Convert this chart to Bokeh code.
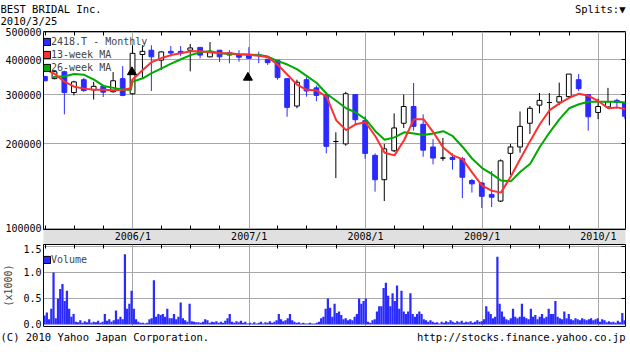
import numpy as np
import pandas as pd
from bokeh.plotting import figure
from bokeh.layouts import column
from bokeh.core.properties import value
from bokeh.models import (ColumnDataSource, FixedTicker, Legend, LegendItem, Grid,
                          Range1d, CustomJSTickFormatter, DatetimeAxis, LogAxis, LinearAxis)
from bokeh.embed import file_html
from bokeh.resources import INLINE

# ---------------- data ----------------
title_text = "BEST BRIDAL Inc."
date_text = "2010/3/25"

candle_dates = [
    "2005-03-31", "2005-04-30", "2005-05-31", "2005-06-30", "2005-07-31", "2005-08-31",
    "2005-09-30", "2005-10-31", "2005-11-30", "2005-12-31", "2006-01-31", "2006-02-28",
    "2006-03-31", "2006-04-30", "2006-05-31", "2006-06-30", "2006-07-31", "2006-08-31",
    "2006-09-30", "2006-10-31", "2006-11-30", "2006-12-31", "2007-01-31", "2007-02-28",
    "2007-03-31", "2007-04-30", "2007-05-31", "2007-06-30", "2007-07-31", "2007-08-31",
    "2007-09-30", "2007-10-31", "2007-11-30", "2007-12-31", "2008-01-31", "2008-02-29",
    "2008-03-31", "2008-04-30", "2008-05-31", "2008-06-30", "2008-07-31", "2008-08-31",
    "2008-09-30", "2008-10-31", "2008-11-30", "2008-12-31", "2009-01-31", "2009-02-28",
    "2009-03-31", "2009-04-30", "2009-05-31", "2009-06-30", "2009-07-31", "2009-08-31",
    "2009-09-30", "2009-10-31", "2009-11-30", "2009-12-31", "2010-01-31", "2010-02-28",
    "2010-03-25",
]
opens = [348000, 342000, 362000, 305000, 339000, 312000, 321000, 307000, 342000, 302000,
         417000, 432000, 398000, 428000, 428000, 432000, 442000, 409000, 432000, 423000,
         415000, 415000, 416000, 401000, 398000, 342000, 273000, 339000, 317000, 300000,
         204000, 200000, 300000, 242000, 182000, 149000, 189000, 237000, 272000, 235000,
         195000, 178000, 179000, 177000, 148000, 145000, 132000, 125000, 185000, 195000,
         237000, 275000, 281000, 282000, 295000, 339000, 300000, 259000, 271000, 286000,
         281000]
highs = [350000, 364000, 365000, 336000, 344000, 333000, 322000, 361000, 379000, 450000,
         450000, 450000, 428000, 447000, 447000, 455000, 444000, 462000, 433000, 432000,
         432000, 443000, 427000, 402000, 399000, 343000, 339000, 346000, 323000, 301000,
         220000, 307000, 301000, 251000, 185000, 200000, 257000, 300000, 330000, 255000,
         208000, 210000, 185000, 180000, 150000, 146000, 160000, 176000, 200000, 261000,
         273000, 304000, 304000, 331000, 355000, 355000, 301000, 290000, 317000, 290000,
         282000]
lows = [335000, 340000, 255000, 298000, 307000, 288000, 294000, 305000, 296000, 300000,
        345000, 309000, 367000, 410000, 411000, 363000, 404000, 408000, 392000, 388000,
        393000, 403000, 388000, 383000, 339000, 250000, 268000, 295000, 284000, 185000,
        151000, 197000, 235000, 177000, 135000, 125000, 187000, 228000, 223000, 180000,
        169000, 174000, 162000, 128000, 134000, 118000, 119000, 124000, 155000, 186000,
        217000, 257000, 233000, 275000, 290000, 309000, 223000, 245000, 267000, 267000,
        245000]
closes = [336000, 362000, 305000, 333000, 310000, 321000, 306000, 336000, 298000, 421000,
          428000, 409000, 426000, 422000, 423000, 440000, 415000, 428000, 409000, 415000,
          408000, 404000, 413000, 390000, 345000, 270000, 332000, 309000, 298000, 196000,
          204000, 302000, 244000, 185000, 149000, 192000, 228000, 272000, 231000, 190000,
          178000, 178000, 176000, 152000, 144000, 130000, 129000, 174000, 195000, 231000,
          268000, 286000, 281000, 295000, 355000, 315000, 250000, 272000, 283000, 281000,
          251000]

ma13_dates = [
    "2005-03-26", "2005-04-01", "2005-05-01", "2005-06-01", "2005-07-01", "2005-08-01",
    "2005-09-01", "2005-10-01", "2005-11-01", "2005-12-01", "2005-12-26", "2005-12-30",
    "2006-02-01", "2006-03-01", "2006-04-01", "2006-05-01", "2006-06-01", "2006-07-01",
    "2006-08-01", "2006-09-01", "2006-10-01", "2006-11-01", "2006-12-01", "2007-01-01",
    "2007-02-01", "2007-03-01", "2007-04-01", "2007-05-01", "2007-06-01", "2007-07-01",
    "2007-08-01", "2007-09-01", "2007-10-01", "2007-11-01", "2007-12-01", "2008-01-01",
    "2008-02-01", "2008-03-01", "2008-04-01", "2008-05-01", "2008-06-01", "2008-07-01",
    "2008-08-01", "2008-09-01", "2008-10-01", "2008-11-01", "2008-12-01", "2009-01-01",
    "2009-02-01", "2009-03-01", "2009-04-01", "2009-05-01", "2009-06-01", "2009-07-01",
    "2009-08-01", "2009-09-01", "2009-10-01", "2009-11-01", "2009-12-01", "2010-01-01",
    "2010-02-01", "2010-03-01", "2010-03-27",
]
ma13_values = [
    372000, 370000, 355000, 333000, 320000, 315000,
    312000, 312000, 311000, 312000, 316000, 339000,
    367000, 392000, 405000, 415000, 421000, 428000,
    428000, 425000, 421000, 421000, 418000, 416000,
    413000, 408000, 383000, 353000, 325000, 312000,
    310000, 295000, 243000, 224000, 235000, 239000,
    213000, 186000, 182000, 206000, 245000, 245000,
    220000, 194000, 182000, 176000, 158000, 142000,
    136000, 134000, 153000, 177000, 205000, 235000,
    264000, 279000, 292000, 302000, 297000, 284000,
    268000, 270000, 266000,
]

ma26_dates = [
    "2005-04-25", "2005-05-01", "2005-06-01", "2005-07-01", "2005-08-01", "2005-09-01",
    "2005-10-01", "2005-11-01", "2005-12-01", "2005-12-26", "2005-12-30", "2006-02-01",
    "2006-03-01", "2006-04-01", "2006-05-01", "2006-06-01", "2006-07-01", "2006-08-01",
    "2006-09-01", "2006-10-01", "2006-11-01", "2006-12-01", "2007-01-01", "2007-02-01",
    "2007-03-01", "2007-04-01", "2007-05-01", "2007-06-01", "2007-07-01", "2007-08-01",
    "2007-09-01", "2007-10-01", "2007-11-01", "2007-12-01", "2008-01-01", "2008-02-01",
    "2008-03-01", "2008-04-01", "2008-05-01", "2008-06-01", "2008-07-01", "2008-08-01",
    "2008-09-01", "2008-10-01", "2008-11-01", "2008-12-01", "2009-01-01", "2009-02-01",
    "2009-03-01", "2009-04-01", "2009-05-01", "2009-06-01", "2009-07-01", "2009-08-01",
    "2009-09-01", "2009-10-01", "2009-11-01", "2009-12-01", "2010-01-01", "2010-02-01",
    "2010-03-01", "2010-03-27",
]
ma26_values = [
    346000, 347000, 349000, 355000, 353000, 339000,
    322000, 317000, 312000, 312000, 333000, 343000,
    358000, 372000, 387000, 401000, 415000, 425000,
    428000, 421000, 419000, 418000, 417000, 415000,
    410000, 395000, 384000, 369000, 349000, 330000,
    302000, 285000, 268000, 259000, 245000, 222000,
    207000, 211000, 220000, 218000, 215000, 218000,
    222000, 213000, 195000, 177000, 164000, 156000,
    148000, 147000, 159000, 170000, 195000, 220000,
    245000, 268000, 277000, 283000, 283000, 283000,
    283000, 281000,
]

split_dates = ["2005-12-29", "2006-12-28"]
split_levels = [361000, 345000]

# weekly volume (x1000 shares), weeks starting 2005-03-30
volume_first_week = "2005-03-30"
volume_k = [
    0.17, 0.23, 0.10, 0.30, 1.00, 0.12, 0.50, 0.68, 0.78, 0.45,
    0.65, 0.30, 0.15, 0.20, 0.05, 0.04, 0.08, 0.03, 0.06, 0.04,
    0.10, 0.03, 0.05, 0.04, 0.07, 0.03, 0.05, 0.20, 0.07, 0.10,
    0.05, 0.08, 0.27, 0.10, 0.15, 0.10, 1.35, 0.30, 0.40, 0.65,
    0.30, 0.10, 0.05, 0.03, 0.03, 0.02, 0.03, 0.10, 0.12, 0.85,
    0.15, 0.20, 0.18, 0.20, 0.15, 0.30, 0.12, 0.12, 0.20, 0.10,
    0.15, 0.42, 0.12, 0.08, 0.05, 0.40, 0.06, 0.05, 0.04, 0.04,
    0.03, 0.05, 0.10, 0.08, 0.03, 0.05, 0.04, 0.06, 0.03, 0.05,
    0.03, 0.07, 0.12, 0.20, 0.05, 0.03, 0.06, 0.04, 0.07, 0.03,
    0.05, 0.02, 0.03, 0.02, 0.04, 0.02, 0.03, 0.05, 0.02, 0.04,
    0.03, 0.06, 0.03, 0.05, 0.08, 0.20, 0.10, 0.06, 0.08, 0.12,
    0.20, 0.08, 0.05, 0.03, 0.04, 0.02, 0.03, 0.02, 0.02, 0.03,
    0.02, 0.02, 0.03, 0.05, 0.12, 0.15, 0.30, 0.50, 0.32, 0.15,
    0.40, 0.22, 0.25, 0.18, 0.10, 0.12, 0.08, 0.10, 0.08, 0.15,
    0.20, 0.50, 0.40, 0.45, 0.50, 0.05, 0.03, 0.08, 0.10, 0.25,
    0.35, 0.35, 0.70, 0.80, 0.55, 0.35, 0.60, 0.45, 0.75, 0.30,
    0.65, 0.25, 0.20, 0.25, 0.60, 0.20, 0.15, 0.20, 0.25, 0.20,
    0.10, 0.08, 0.05, 0.08, 0.05, 0.03, 0.04, 0.02, 0.05, 0.03,
    0.06, 0.04, 0.08, 0.05, 0.03, 0.06, 0.04, 0.07, 0.03, 0.05,
    0.04, 0.06, 0.03, 0.05, 0.08, 0.05, 0.06, 0.10, 0.35, 0.25,
    0.20, 0.12, 0.15, 1.30, 0.40, 0.25, 0.15, 0.10, 0.08, 0.12,
    0.30, 0.15, 0.12, 0.15, 0.40, 0.15, 0.12, 0.10, 0.30, 0.15,
    0.18, 0.10, 0.15, 0.20, 0.12, 0.15, 0.30, 0.20, 0.20, 0.45,
    0.15, 0.12, 0.10, 0.25, 0.12, 0.20, 0.10, 0.08, 0.12, 0.10,
    0.08, 0.12, 0.10, 0.08, 0.10, 0.12, 0.08, 0.10, 0.12, 0.05,
    0.10, 0.08, 0.04, 0.06, 0.04, 0.05, 0.03, 0.07, 0.04, 0.22, 0.08,
]

year_ticks = ["2006-01-01", "2007-01-01", "2008-01-01", "2009-01-01", "2010-01-01"]
year_labels = ["2006/1", "2007/1", "2008/1", "2009/1", "2010/1"]
quarter_ticks = [f"{y}-{m:02d}-01" for y in range(2005, 2010) for m in (4, 7, 10)]
price_ticks = [100000, 200000, 300000, 400000, 500000]
volume_ticks = [0.0, 0.5, 1.0, 1.5]

legend_labels = ["2418.T - Monthly", "13-week MA", "26-week MA"]
volume_label = "Volume"
volume_axis_label = "(x1000)"
footer_left = "(C) 2010 Yahoo Japan Corporation."
footer_right = "http://stocks.finance.yahoo.co.jp"
splits_text = "Splits:\u25bc"

# ---------------- styling ----------------
FONT = "DejaVu Sans Mono"
FS = "10px"
TFS = "10.5px"
BLUE = "#2b2bff"
RED = "#ff3030"
GREEN = "#00aa00"
GRID = "#a8a8a8"
BAND = "#e0e0e0"
W = 630
DAY = 86400000


def ms(d):
    return pd.Timestamp(d).value // 10**6


year_ms = [ms(d) for d in year_ticks]
quarter_ms = [ms(d) for d in quarter_ticks]
HIDDEN_X = [ms("2000-01-01")]  # legend swatch proxies, outside the visible range

x_range = Range1d(start=ms("2005-03-26 12:00"), end=ms("2010-03-27"))


def set_grid(fig, dim, ticks):
    grids = [g for g in fig.renderers + fig.center if isinstance(g, Grid) and g.dimension == dim]
    if grids:
        for g in grids:
            g.ticker = FixedTicker(ticks=ticks)
            g.grid_line_color = GRID
            g.grid_line_alpha = 1
    else:
        fig.add_layout(Grid(dimension=dim, ticker=FixedTicker(ticks=ticks),
                            grid_line_color=GRID, grid_line_alpha=1))


def tick_only(axis):
    # an axis that shows only inward minor tick marks, no labels
    axis.major_tick_in = 0
    axis.major_tick_out = 0
    axis.minor_tick_in = 4
    axis.minor_tick_out = 0
    axis.minor_tick_line_color = "black"
    axis.axis_line_color = None
    axis.major_label_standoff = 0
    return axis


def text_strip(height):
    fig = figure(width=W, height=height, x_range=Range1d(0, W), y_range=Range1d(0, height),
                 x_axis_location=None, y_axis_location=None, min_border=0,
                 output_backend="svg", toolbar_location=None)
    fig.outline_line_color = None
    fig.grid.visible = False
    return fig


# ---------------- header ----------------
HEAD_H = 27
h = text_strip(HEAD_H)
h.text(x=[0, 0], y=[HEAD_H - 8, HEAD_H - 20.5], text=[title_text, date_text],
       text_font=value(FONT), text_font_size=TFS, text_baseline="middle",
       text_align="left", text_color="black")
h.text(x=[625], y=[HEAD_H - 8], text=[splits_text], text_font=value(FONT),
       text_font_size=TFS, text_baseline="middle", text_align="right", text_color="black")

# ---------------- price panel ----------------
df = pd.DataFrame(dict(date=pd.to_datetime(candle_dates), open=opens, high=highs,
                       low=lows, close=closes))
df["top"] = df[["open", "close"]].max(axis=1)
df["bottom"] = df[["open", "close"]].min(axis=1)
down = df["close"] < df["open"]
df["fill"] = np.where(down, BLUE, "white")
df["line"] = np.where(down, BLUE, "black")
csrc = ColumnDataSource(df)

p = figure(width=W, height=217, x_axis_type="datetime", y_axis_type="log",
           x_range=x_range, y_range=Range1d(98950, 503800),
           output_backend="svg", toolbar_location=None,
           min_border_left=39, min_border_right=5, min_border_top=4, min_border_bottom=12)
p.outline_line_color = "black"
p.outline_line_alpha = 1
set_grid(p, 0, year_ms)
set_grid(p, 1, price_ticks)

p.segment(x0="date", y0="low", x1="date", y1="high", color="line", line_width=1, source=csrc)
p.vbar(x="date", width=15 * DAY, top="top", bottom="bottom", fill_color="fill",
       line_color="line", line_width=1, source=csrc)
p.line(pd.to_datetime(ma26_dates), ma26_values, color=GREEN, line_width=2)
p.line(pd.to_datetime(ma13_dates), ma13_values, color=RED, line_width=2)
p.scatter(pd.to_datetime(split_dates), split_levels, marker="triangle", size=9,
          fill_color="black", line_color="black")

ya = p.yaxis[0]
ya.ticker = FixedTicker(ticks=price_ticks)
ya.formatter = CustomJSTickFormatter(code="return tick.toFixed(0);")
ya.major_tick_in = 0
ya.major_tick_out = 0
ya.minor_tick_line_color = None
ya.axis_line_color = None
ya.major_label_standoff = 2
ya.major_label_text_font = FONT
ya.major_label_text_font_size = FS
ya.major_label_text_color = "black"

xa = p.xaxis[0]
xa.ticker = FixedTicker(ticks=year_ms, minor_ticks=quarter_ms)
xa.formatter = CustomJSTickFormatter(args=dict(t=year_ms, l=year_labels),
                                     code="const i = t.indexOf(tick); return i < 0 ? '' : l[i];")
xa.major_tick_in = 0
xa.major_tick_out = 0
xa.minor_tick_in = 4
xa.minor_tick_out = 0
xa.minor_tick_line_color = "black"
xa.axis_line_color = "black"
xa.major_label_standoff = 1
xa.major_label_text_font = FONT
xa.major_label_text_font_size = FS
xa.major_label_text_color = "black"
try:
    xa.background_fill_color = BAND
except AttributeError:
    pass

p.add_layout(tick_only(DatetimeAxis(ticker=FixedTicker(ticks=[], minor_ticks=quarter_ms))), "above")
p.add_layout(tick_only(LogAxis(ticker=FixedTicker(ticks=[], minor_ticks=price_ticks[1:4]))), "right")

# legend swatches
sw = [p.vbar(x=HIDDEN_X, top=[200000], bottom=[100000], width=DAY, fill_color=c,
             line_color="black") for c in (BLUE, RED, GREEN)]
legend = Legend(items=[LegendItem(label=lab, renderers=[r]) for lab, r in zip(legend_labels, sw)],
                location=(-1, 156), glyph_width=9, glyph_height=9, label_height=9,
                label_standoff=0, spacing=2, padding=0, margin=0,
                background_fill_alpha=0, border_line_color=None,
                label_text_font=FONT, label_text_font_size=FS)
p.add_layout(legend)

# ---------------- volume panel ----------------
vdates = pd.date_range(volume_first_week, periods=len(volume_k), freq="7D")
vsrc = ColumnDataSource(dict(date=vdates, vol=volume_k))

v = figure(width=W, height=87, x_axis_type="datetime", x_range=x_range,
           y_range=Range1d(-0.04, 1.538), x_axis_location=None,
           output_backend="svg", toolbar_location=None,
           min_border_left=39, min_border_right=5, min_border_top=0, min_border_bottom=5)
v.outline_line_color = "black"
v.outline_line_alpha = 1
set_grid(v, 0, year_ms)
set_grid(v, 1, volume_ticks[1:])

v.vbar(x="date", width=7 * DAY, top="vol", bottom=0, fill_color=BLUE,
       line_color=None, source=vsrc)

vy = v.yaxis[0]
vy.ticker = FixedTicker(ticks=volume_ticks)
vy.formatter = CustomJSTickFormatter(code="return tick.toFixed(1);")
vy.major_tick_in = 0
vy.major_tick_out = 0
vy.minor_tick_line_color = None
vy.axis_line_color = None
vy.major_label_standoff = 2
vy.major_label_text_font = FONT
vy.major_label_text_font_size = FS
vy.major_label_text_color = "black"
vy.axis_label = volume_axis_label
vy.axis_label_text_font = FONT
vy.axis_label_text_font_size = FS
vy.axis_label_text_font_style = "normal"
vy.axis_label_standoff = 6

v.add_layout(tick_only(DatetimeAxis(ticker=FixedTicker(ticks=[], minor_ticks=quarter_ms))), "above")
v.add_layout(tick_only(LinearAxis(ticker=FixedTicker(ticks=[], minor_ticks=volume_ticks[1:]))), "right")

vsw = v.vbar(x=HIDDEN_X, top=[1.0], bottom=[0.0], width=DAY, fill_color=BLUE,
             line_color="black")
vleg = Legend(items=[LegendItem(label=volume_label, renderers=[vsw])],
              location=(-1, 61), glyph_width=9, glyph_height=9, label_height=9,
              label_standoff=0, spacing=2, padding=0, margin=0,
              background_fill_alpha=0, border_line_color=None,
              label_text_font=FONT, label_text_font_size=FS)
v.add_layout(vleg)

# ---------------- footer ----------------
FOOT_H = 23
f = text_strip(FOOT_H)
f.text(x=[0], y=[FOOT_H - 5], text=[footer_left], text_font=value(FONT), text_font_size=TFS,
       text_baseline="middle", text_align="left", text_color="black")
f.text(x=[625], y=[FOOT_H - 5], text=[footer_right], text_font=value(FONT), text_font_size=TFS,
       text_baseline="middle", text_align="right", text_color="black")

layout = column(h, column(p, v, spacing=0), f, spacing=0)
open("out.html", "w").write(file_html(layout, INLINE))
